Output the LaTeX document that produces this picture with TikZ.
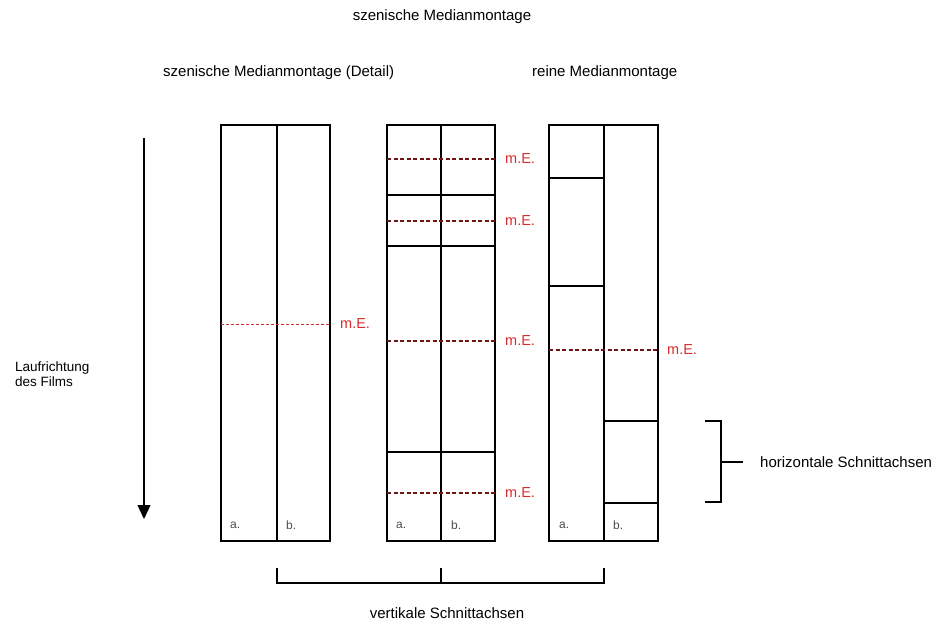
\documentclass[tikz,border=0pt]{standalone}
\usepackage{fontspec}
\setmainfont{Liberation Sans}
\usetikzlibrary{arrows.meta}
\definecolor{mered}{RGB}{215,45,45}
\definecolor{dashdark}{RGB}{110,20,20}
\begin{document}
\begin{tikzpicture}[x=1pt,y=-1pt,
  frame/.style={draw=black,line width=1.6pt},
  cut/.style={draw=black,line width=1.4pt},
  medline/.style={draw=dashdark,line width=1.4pt,dash pattern=on 4pt off 2.5pt},
  medthin/.style={draw=mered,line width=0.7pt,dash pattern=on 3pt off 2pt},
  melabel/.style={text=mered,font=\fontsize{14.5}{16}\selectfont,anchor=west,inner sep=0pt},
  lbl/.style={font=\fontsize{15}{17}\selectfont,inner sep=0pt},
  small/.style={font=\fontsize{12}{13}\selectfont,text=black!70,anchor=west,inner sep=0pt},
  brk/.style={draw=black,line width=1.3pt}]
\useasboundingbox (0,0) rectangle (943,630);

% titles
\node[lbl] (title) at (442,17) {szenische Medianmontage};
\node[lbl,anchor=west] (sub1) at (163,73) {szenische Medianmontage (Detail)};
\node[lbl,anchor=west] (sub2) at (532,73) {reine Medianmontage};

% direction arrow
\coordinate (arrTop) at (144,138);
\coordinate (arrBot) at (144,519);
\draw[line width=1.2pt,-{Triangle[length=14pt,width=13pt]}] (arrTop) -- (arrBot);
\node[font=\fontsize{13.5}{15}\selectfont,inner sep=0pt,align=left,anchor=west] (lauf) at (15,374) {Laufrichtung\\des Films};

% panel 1
\draw[frame] (221,125) rectangle (330,541);
\draw[frame] (277,125) -- (277,541);
\draw[medthin] (221,324) -- (330,324);
\node[melabel] (me1) at (340,324) {m.E.};
\node[small] (a1) at (230,525) {a.};
\node[small] (b1) at (286,525) {b.};

% panel 2
\draw[frame] (387,125) rectangle (495,541);
\draw[frame] (441,125) -- (441,541);
\foreach \yy in {195,246,452} \draw[cut] (387,\yy) -- (495,\yy);
\foreach \yy in {159,221,341,493} {
  \draw[medline] (387,\yy) -- (495,\yy);
  \node[melabel] at (505,\yy) {m.E.};
}
\node[small] (a2) at (396,525) {a.};
\node[small] (b2) at (451,525) {b.};

% panel 3
\draw[frame] (549,125) rectangle (658,541);
\draw[line width=2.2pt] (658,125) -- (658,541);
\draw[frame] (604,125) -- (604,541);
\draw[cut] (549,178) -- (604,178);
\draw[cut] (549,286) -- (604,286);
\draw[cut] (604,421) -- (658,421);
\draw[cut] (604,503) -- (658,503);
\draw[medline] (549,350) -- (658,350);
\node[melabel] (me3) at (667,350) {m.E.};
\node[small] (a3) at (559,525) {a.};
\node[small] (b3) at (613,525) {b.};

% bottom bracket
\coordinate (bl) at (277,568);
\coordinate (bm) at (441,568);
\coordinate (br) at (604,568);
\draw[brk] (bl) -- (277,583) -- (604,583) -- (br);
\draw[brk] (bm) -- (441,583);
\node[lbl] (vert) at (447,613) {vertikale Schnittachsen};

% right bracket
\draw[brk] (705,421) -- (721,421) -- (721,502) -- (705,502);
\draw[brk] (721,462) -- (743,462);
\node[lbl,anchor=west] (horiz) at (760,462) {horizontale Schnittachsen};
\end{tikzpicture}
\end{document}
